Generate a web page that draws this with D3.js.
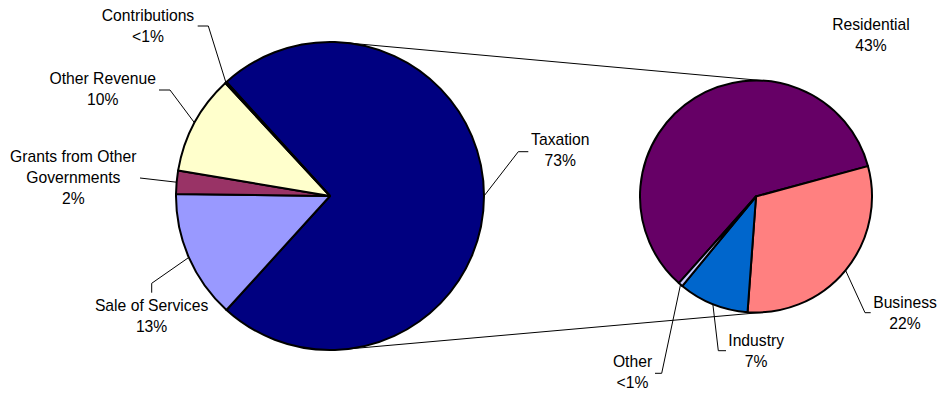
<!DOCTYPE html>
<html>
<head>
<meta charset="utf-8">
<script src="https://cdn.jsdelivr.net/npm/d3@7/dist/d3.min.js"></script>
<style>
  html, body { margin: 0; padding: 0; background: #fff; }
  svg { display: block; }
  text { font-family: "Liberation Sans", Arial, sans-serif; font-size: 15.7px; fill: #000; }
</style>
</head>
<body>
<svg id="chart" width="941" height="394"></svg>
<script>
// Revenue sources (percent of total revenue)
const mainCategories = ["Sale of Services", "Grants from Other Governments", "Other Revenue", "Contributions"];
const mainValues     = [13.45, 2.45, 10.45, 0.15];

// Taxation broken down in the secondary pie
const taxCategories = ["Residential", "Business", "Industry", "Other"];
const taxValues     = [43.45, 22.3, 7.2, 0.45];

const splitName = "Taxation";

// Label line breaks
const labelLines = {
  "Contributions": ["Contributions"],
  "Other Revenue": ["Other Revenue"],
  "Grants from Other Governments": ["Grants from Other", "Governments"],
  "Sale of Services": ["Sale of Services"],
  "Taxation": ["Taxation"],
  "Residential": ["Residential"],
  "Business": ["Business"],
  "Industry": ["Industry"],
  "Other": ["Other"]
};

// ---- layout ----
const primary   = { cx: 330, cy: 196, r: 154 };
const secondary = { cx: 756, cy: 196.5, r: 116 };
const secondaryStartDeg = 221.7;
const lineHeight = 21;

const labelLayout = {
  "Contributions": { x: 148, y: 20.7, elbow: [208.3, 26], end: [197.7, 26] },
  "Other Revenue": { x: 102.7, y: 84.3, elbow: [170, 90], end: [159, 90] },
  "Grants from Other Governments": { x: 73.3, y: 162.3, elbow: null, end: [140, 178] },
  "Sale of Services": { x: 151.6, y: 310.7, elbow: [151.7, 283.3], end: [151.7, 292.7] },
  "Taxation": { x: 560.3, y: 145, elbow: [518.3, 151.7], end: [528.3, 151.7] },
  "Residential": { x: 871, y: 30, elbow: null, end: null },
  "Business": { x: 905, y: 307.7, elbow: [865, 312.7], end: [870.7, 312.7] },
  "Industry": { x: 756.2, y: 346, elbow: [718.3, 350.7], end: [726, 350.7] },
  "Other": { x: 632.5, y: 366.7, elbow: [661.7, 373.3], end: [655, 373.3] }
};

const colors = d3.scaleOrdinal()
  .domain([splitName, ...mainCategories, ...taxCategories])
  .range(["#000080", "#9999FF", "#993366", "#FFFFCC", "#CCFFFF",
          "#660066", "#FF8080", "#0066CC", "#CCCCFF"]);

// ---- data ----
const taxTotal = d3.sum(taxValues);
const primaryData = [{ name: splitName, value: taxTotal }]
  .concat(mainCategories.map((c, i) => ({ name: c, value: mainValues[i] })));
const secondaryData = taxCategories.map((c, i) => ({ name: c, value: taxValues[i] }));
const grandTotal = d3.sum(primaryData, d => d.value);

const pctFmt = d3.format(".0%");
const pctText = v => (v / grandTotal < 0.01 ? "<1%" : pctFmt(v / grandTotal));

// The split slice is centred on the right-hand side of the primary pie
const splitSpan = taxTotal / grandTotal * 2 * Math.PI;
const primaryStart = Math.PI / 2 - splitSpan / 2;

const primaryArcs = d3.pie().sort(null).value(d => d.value)
  .startAngle(primaryStart).endAngle(primaryStart + 2 * Math.PI)(primaryData);

const secStart = secondaryStartDeg * Math.PI / 180;
const secondaryArcs = d3.pie().sort(null).value(d => d.value)
  .startAngle(secStart).endAngle(secStart + 2 * Math.PI)(secondaryData);

const svg = d3.select("#chart");

// ---- connector lines (outer tangents of both pies) ----
(function () {
  const dx = secondary.cx - primary.cx, dy = secondary.cy - primary.cy;
  const d = Math.hypot(dx, dy);
  const phi = Math.atan2(dy, dx);
  const beta = Math.acos((primary.r - secondary.r) / d);
  [phi - beta, phi + beta].forEach(a => {
    const nx = Math.cos(a), ny = Math.sin(a);
    svg.append("line")
      .attr("x1", primary.cx + primary.r * nx).attr("y1", primary.cy + primary.r * ny)
      .attr("x2", secondary.cx + secondary.r * nx).attr("y2", secondary.cy + secondary.r * ny)
      .attr("stroke", "#000").attr("stroke-width", 1);
  });
})();

function drawPie(arcs, geo) {
  const arc = d3.arc().innerRadius(0).outerRadius(geo.r);
  const g = svg.append("g").attr("transform", `translate(${geo.cx},${geo.cy})`);
  g.selectAll("path").data(arcs).join("path")
    .attr("d", arc)
    .attr("fill", d => colors(d.data.name))
    .attr("stroke", "#000")
    .attr("stroke-width", 2)
    .attr("stroke-linejoin", "round");
}

function drawLabels(arcs, geo) {
  arcs.forEach(a => {
    const name = a.data.name;
    const lay = labelLayout[name];
    if (!lay) return;
    const mid = (a.startAngle + a.endAngle) / 2;
    const sx = geo.cx + geo.r * Math.sin(mid);
    const sy = geo.cy - geo.r * Math.cos(mid);
    if (lay.end) {
      const pts = [[sx, sy]];
      if (lay.elbow) pts.push(lay.elbow);
      pts.push(lay.end);
      svg.append("path")
        .attr("d", d3.line()(pts))
        .attr("fill", "none")
        .attr("stroke", "#000")
        .attr("stroke-width", 1);
    }
    const lines = labelLines[name].concat([pctText(a.data.value)]);
    const t = svg.append("text").attr("text-anchor", "middle");
    lines.forEach((ln, i) => {
      t.append("tspan").attr("x", lay.x).attr("y", lay.y + i * lineHeight).text(ln);
    });
  });
}

drawPie(primaryArcs, primary);
drawPie(secondaryArcs, secondary);
drawLabels(primaryArcs, primary);
drawLabels(secondaryArcs, secondary);
</script>
</body>
</html>
